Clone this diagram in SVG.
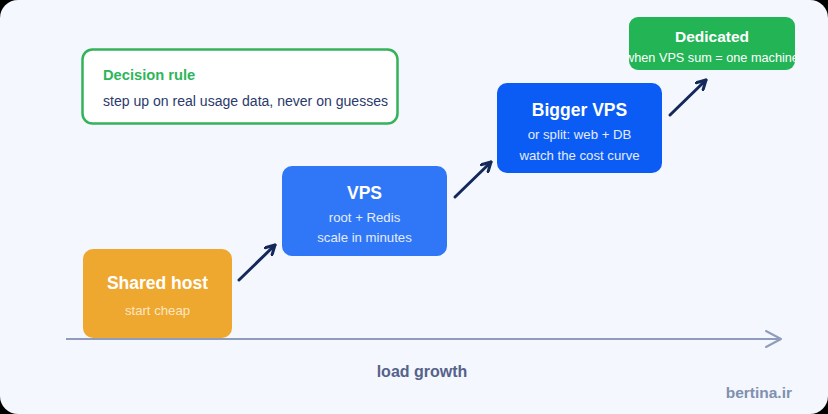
<svg xmlns="http://www.w3.org/2000/svg" width="828" height="414" viewBox="0 0 828 414">
<style>
.t{font-family:"Liberation Sans",Arial,sans-serif;fill:#ffffff;text-anchor:middle}
.h{font-weight:bold;font-size:17.5px}
.s{font-size:13.2px;fill:#e4ecfb}
.c{fill:none;stroke:#14285a;stroke-width:3;stroke-linecap:round}
</style>
<defs>
<marker id="ah" viewBox="0 0 12 12" refX="10" refY="6" markerWidth="12" markerHeight="12" markerUnits="userSpaceOnUse" orient="auto">
<path d="M1,1 L10,6 L1,11" fill="none" stroke="#14285a" stroke-width="3" stroke-linecap="round" stroke-linejoin="round"/>
</marker>
<marker id="ax" viewBox="0 0 20 20" refX="18" refY="10" markerWidth="20" markerHeight="20" markerUnits="userSpaceOnUse" orient="auto">
<path d="M3,2 L18,10 L3,18" fill="none" stroke="#8f9cbc" stroke-width="2" stroke-linecap="round" stroke-linejoin="round"/>
</marker>
<clipPath id="dc"><rect x="629" y="17" width="166" height="53" rx="9"/></clipPath>
</defs>
<rect x="0" y="0" width="828" height="414" fill="#000000"/>
<rect x="0" y="0" width="828" height="414" rx="18" fill="#f4f7fd"/>
<g id="axis">
<line x1="66" y1="339" x2="781" y2="339" stroke="#8f9cbc" stroke-width="2" marker-end="url(#ax)"/>
<text x="422" y="377" font-family="Liberation Sans,Arial,sans-serif" font-size="16" font-weight="bold" fill="#55628a" text-anchor="middle">load growth</text>
</g>
<g id="rule">
<rect x="82.5" y="49.5" width="315" height="74" rx="10" fill="#ffffff" stroke="#34b35a" stroke-width="2.5"/>
<text x="103" y="80" font-family="Liberation Sans,Arial,sans-serif" font-size="14.7" font-weight="bold" fill="#2db55a">Decision rule</text>
<text x="103" y="106" font-family="Liberation Sans,Arial,sans-serif" font-size="14.05" fill="#2a3a6b">step up on real usage data, never on guesses</text>
</g>
<g id="shared">
<rect x="83" y="249" width="149" height="89" rx="10" fill="#efa82f"/>
<text class="t h" x="157.5" y="289">Shared host</text>
<text class="t s" x="157.5" y="315" style="fill:#fbe6c2">start cheap</text>
</g>
<g id="vps">
<rect x="282" y="166" width="165" height="90" rx="10" fill="#3077f7"/>
<text class="t h" x="364.5" y="199">VPS</text>
<text class="t s" x="364.5" y="222">root + Redis</text>
<text class="t s" x="364.5" y="242">scale in minutes</text>
</g>
<g id="bigger">
<rect x="497" y="83" width="165" height="90" rx="10" fill="#0a5cf5"/>
<text class="t h" x="579.5" y="116">Bigger VPS</text>
<text class="t s" x="579.5" y="139">or split: web + DB</text>
<text class="t s" x="579.5" y="160">watch the cost curve</text>
</g>
<g id="dedicated">
<rect x="629" y="17" width="166" height="53" rx="9" fill="#22b455"/>
<g clip-path="url(#dc)">
<text class="t" x="712" y="42" font-size="15.5" font-weight="bold">Dedicated</text>
<text class="t" x="712" y="62" font-size="12.7" fill="#e3f6e9">when VPS sum = one machine</text>
</g>
</g>
<g id="connectors">
<line class="c" x1="239" y1="280" x2="275" y2="245" marker-end="url(#ah)"/>
<line class="c" x1="455" y1="197" x2="491" y2="162" marker-end="url(#ah)"/>
<line class="c" x1="670" y1="115" x2="706" y2="80" marker-end="url(#ah)"/>
</g>
<text x="792" y="398" font-family="Liberation Sans,Arial,sans-serif" font-size="15.5" font-weight="bold" fill="#8090b0" text-anchor="end">bertina.ir</text>
</svg>
